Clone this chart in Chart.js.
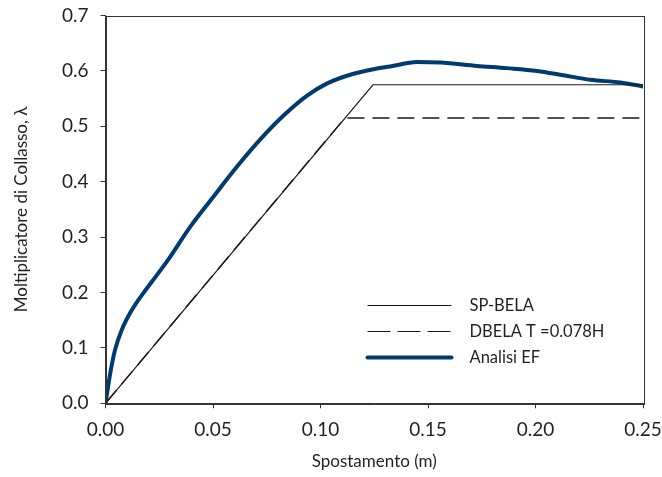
<!DOCTYPE html>
<html>
<head>
<meta charset="utf-8">
<script src="https://cdn.jsdelivr.net/npm/chart.js@4/dist/chart.umd.min.js"></script>
<style>
html,body{margin:0;padding:0;background:#fff;}
#wrap{width:662px;height:477px;position:relative;}
</style>
</head>
<body>
<div id="wrap"><canvas id="c" width="662" height="477"></canvas></div>
<script>
// ---- data ----
const spBelaX = [0, 0.1244, 0.25];
const spBelaY = [0, 0.575, 0.575];

const dbelaX = [0, 0.1113, 0.25];
const dbelaY = [0, 0.515, 0.515];

const efX = [0, 0.0022, 0.0044, 0.0075, 0.0122, 0.0176, 0.0238, 0.030, 0.0393, 0.0502, 0.0611, 0.0719, 0.0827, 0.0936, 0.1029, 0.1138, 0.1247, 0.1324, 0.1449, 0.1557, 0.1728, 0.1868, 0.2007, 0.2131, 0.2255, 0.2395, 0.25];
const efY = [0, 0.054, 0.096, 0.132, 0.168, 0.199, 0.231, 0.264, 0.318, 0.373, 0.427, 0.476, 0.519, 0.555, 0.577, 0.593, 0.603, 0.608, 0.616, 0.615, 0.609, 0.605, 0.600, 0.592, 0.584, 0.579, 0.572];

const seriesLabels = ['SP-BELA', 'DBELA T =0.078H', 'Analisi EF'];
const xTicks = [0, 0.05, 0.10, 0.15, 0.20, 0.25];
const yTicks = [0, 0.1, 0.2, 0.3, 0.4, 0.5, 0.6, 0.7];
const xTitle = 'Spostamento (m)';
const yTitle = 'Moltiplicatore di Collasso, \u03BB';

// ---- helpers ----
const pts = (xs, ys) => xs.map((x, i) => ({x: x, y: ys[i]}));
const FONT = 'Lato, "Open Sans", sans-serif';
const INK = '#231f20';

const boxPlugin = {
  id: 'box',
  afterDatasetsDraw(chart) {
    const {ctx, chartArea: a} = chart;
    ctx.save();
    ctx.strokeStyle = '#333';
    ctx.lineWidth = 1;
    ctx.strokeRect(Math.round(a.left) + 0.5, Math.round(a.top) + 0.5, Math.round(a.right - a.left), Math.round(a.bottom - a.top));
    ctx.restore();
  }
};

const legendPlugin = {
  id: 'innerLegend',
  afterDraw(chart) {
    const {ctx, chartArea: a} = chart;
    const x0 = a.left + 262, x1 = a.left + 346, tx = a.left + 364;
    const rows = [a.top + 290, a.top + 316, a.top + 342];
    ctx.save();
    ctx.font = '16.5px ' + FONT;
    ctx.textBaseline = 'middle';
    ctx.textAlign = 'left';
    chart.data.datasets.forEach((ds, i) => {
      const y = rows[i];
      ctx.strokeStyle = ds.borderColor;
      ctx.lineWidth = ds.borderWidth > 2 ? ds.borderWidth : 1;
      ctx.lineCap = ds.borderWidth > 2 ? 'round' : 'butt';
      ctx.setLineDash(ds.borderDash && ds.borderDash.length ? [23, 7] : []);
      ctx.beginPath();
      ctx.moveTo(x0, y);
      ctx.lineTo(x1, y);
      ctx.stroke();
      ctx.setLineDash([]);
      ctx.fillStyle = INK;
      ctx.fillText(ds.label, tx, y);
    });
    ctx.restore();
  }
};

new Chart(document.getElementById('c'), {
  type: 'line',
  data: {
    datasets: [
      {label: seriesLabels[0], data: pts(spBelaX, spBelaY), borderColor: '#1a1a1a', borderWidth: 1.2, pointRadius: 0, tension: 0, fill: false},
      {label: seriesLabels[1], data: pts(dbelaX, dbelaY), borderColor: '#1a1a1a', borderWidth: 1.4, borderDash: [17, 8], pointRadius: 0, tension: 0, fill: false},
      {label: seriesLabels[2], data: pts(efX, efY), borderColor: '#003b6f', borderWidth: 4, pointRadius: 0, cubicInterpolationMode: 'monotone', fill: false, borderCapStyle: 'round', borderJoinStyle: 'round'}
    ]
  },
  options: {
    responsive: false,
    animation: false,
    devicePixelRatio: 1,
    layout: {padding: {left: 0, right: 19, top: 15.5, bottom: 0}},
    plugins: {legend: {display: false}, tooltip: {enabled: false}},
    scales: {
      x: {
        type: 'linear', min: 0, max: 0.25,
        afterBuildTicks: s => { s.ticks = xTicks.map(v => ({value: v})); },
        afterFit: s => { s.height = 73.7; s.paddingLeft = 0; s.paddingRight = 0; },
        ticks: {color: INK, font: {family: FONT, size: 19}, padding: 10, maxRotation: 0, autoSkip: false,
          callback: v => v.toFixed(2)},
        grid: {drawOnChartArea: false, tickLength: 5, color: '#333', tickColor: '#333'},
        border: {color: '#333', width: 1},
        title: {display: true, text: xTitle, color: INK, font: {family: FONT, size: 17}, padding: {top: 0, bottom: 5}}
      },
      y: {
        type: 'linear', min: 0, max: 0.7,
        afterBuildTicks: s => { s.ticks = yTicks.map(v => ({value: v})); },
        afterFit: s => { s.width = 105.5; s.paddingTop = 0; s.paddingBottom = 0; },
        ticks: {color: INK, font: {family: FONT, size: 19}, padding: 12, autoSkip: false,
          callback: v => v.toFixed(1)},
        grid: {drawOnChartArea: false, tickLength: 5, color: '#333', tickColor: '#333'},
        border: {color: '#333', width: 1},
        title: {display: true, text: yTitle, color: INK, font: {family: FONT, size: 17}, padding: {top: 11, bottom: 0}}
      }
    }
  },
  plugins: [boxPlugin, legendPlugin]
});
</script>
</body>
</html>
